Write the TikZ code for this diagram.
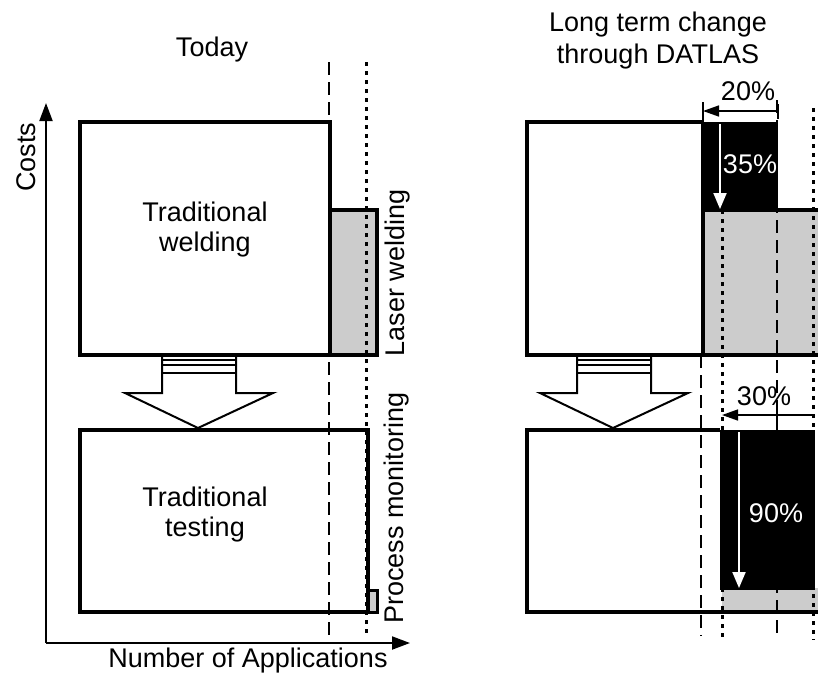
\documentclass[tikz,border=0pt]{standalone}
\usepackage{fontspec}
\setmainfont{Liberation Sans}
\usetikzlibrary{arrows.meta}

\tikzset{
  boxline/.style={line width=4.5pt},
  greybox/.style={boxline, fill=black!20},
  dashline/.style={line width=2.5pt, dash pattern=on 13pt off 7pt},
  dotline/.style={line width=3pt, dash pattern=on 4pt off 5pt},
  lbl/.style={font=\fontsize{27}{30}\selectfont, align=center, inner sep=0pt},
  whitearrow/.style={white, line width=2pt, -{Triangle[width=13pt,length=16pt]}},
  dimarrow/.style={line width=1.5pt, -{Triangle[width=11pt,length=16pt]}},
  axis/.style={line width=2pt, -{Triangle[width=13pt,length=18pt]}},
  hollowarrow/.style={line width=2pt, line join=miter}
}

\begin{document}
\begin{tikzpicture}[x=1pt, y=-1pt]

\useasboundingbox (0,0) rectangle (818,673);
\clip (0,0) rectangle (818,673);

% Titles
\node[lbl] (today) at (212,50) {Today};
\node[lbl, font=\fontsize{27}{32}\selectfont] (datlas) at (658,41) {Long term change\\through DATLAS};

% Axes
\coordinate (origin) at (46,643);
\coordinate (ytop) at (46,103);
\coordinate (xend) at (410,643);
\draw[axis] (origin) -- (ytop);
\draw[axis] (origin) -- (xend);
\node[lbl, rotate=90] (costs) at (26,157) {Costs};
\node[lbl] (numapps) at (248,661) {Number of Applications};

% Today: grey boxes
\draw[greybox] (330,210) rectangle (377,355);
\draw[greybox, line width=3pt] (368,590) rectangle (377,612);

% Today: limits
\draw[dashline] (329,62) -- (329,636);
\draw[dotline] (366,62) -- (366,636);

% Today: white boxes
\draw[boxline] (80,122) rectangle (330,355);
\draw[boxline] (80,430) rectangle (368,612);
\node[lbl] (tradweld) at (205,230) {Traditional\\welding};
\node[lbl] (tradtest) at (205,515) {Traditional\\testing};
\node[lbl, rotate=90] (laser) at (398,273) {Laser welding};
\node[lbl, rotate=90] (procmon) at (397,508) {Process monitoring};

% DATLAS: grey boxes
\draw[greybox] (703,210) rectangle (830,355);
\fill[black!20] (722,588) rectangle (830,612);

% DATLAS: limits
\draw[dashline] (701,355) -- (701,636);
\draw[dotline] (722,210) -- (722,640);
\draw[dashline] (777,100) -- (777,640);
\draw[dotline] (813,108) -- (813,640);

% DATLAS: savings
\fill (703,122) rectangle (778,210);
\fill (720,430) rectangle (815,590);

% DATLAS: white boxes
\draw[boxline] (703,122) -- (527,122) -- (527,355) -- (703,355);
\draw[boxline] (703,122) -- (703,355);
\draw[boxline] (720,430) -- (527,430) -- (527,612) -- (830,612);

% Hollow arrows
\foreach \dx in {0,415}{
  \draw[hollowarrow, shift={(\dx,0)}] (162,355) -- (162,393) -- (125,393) -- (198,428) -- (273,393) -- (236,393) -- (236,355);
  \draw[line width=1.2pt, shift={(\dx,0)}] (162,360) -- (236,360) (162,365) -- (236,365) (162,373) -- (236,373);
}

% 20%
\coordinate (w20r) at (778,111);
\coordinate (w20l) at (703,111);
\draw[dimarrow] (w20r) -- (w20l);
\draw[line width=1.5pt] (703,102) -- (703,122) (778,104) -- (778,119);
\node[lbl] (p20) at (748,91) {20\%};

% 35%
\coordinate (w35t) at (720,124);
\coordinate (w35b) at (720,209);
\draw[whitearrow] (w35t) -- (w35b);
\node[lbl, white] (p35) at (750,164) {35\%};

% 30%
\coordinate (t30r) at (815,415);
\coordinate (t30l) at (722,415);
\draw[dimarrow] (t30r) -- (t30l);
\draw[line width=1.5pt] (777,405) -- (777,428);
\node[lbl] (p30) at (764,396) {30\%};

% 90%
\coordinate (t90t) at (739,432);
\coordinate (t90b) at (739,588);
\draw[whitearrow] (t90t) -- (t90b);
\node[lbl, white] (p90) at (776,513) {90\%};

\end{tikzpicture}
\end{document}
